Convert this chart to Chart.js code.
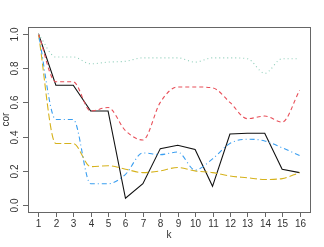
<!DOCTYPE html>
<html>
<head>
<meta charset="utf-8">
<script src="https://cdn.jsdelivr.net/npm/chart.js@4/dist/chart.umd.min.js"></script>
<style>
  html, body { margin: 0; padding: 0; background: #fff; }
  #wrap { width: 324px; height: 247px; }
</style>
</head>
<body>
<div id="wrap"><canvas id="chart" width="324" height="247"></canvas></div>
<script>
// data
const ks = [1, 2, 3, 4, 5, 6, 7, 8, 9, 10, 11, 12, 13, 14, 15, 16];
const yTicks = [0, 0.2, 0.4, 0.6, 0.8, 1.0];
const blackVals = [1.0, 0.70, 0.70, 0.55, 0.55, 0.04, 0.125, 0.33, 0.35, 0.325, 0.11, 0.415, 0.42, 0.42, 0.21, 0.19];
const redVals = [1.0, 0.72, 0.72, 0.55, 0.57, 0.435, 0.38, 0.60, 0.69, 0.69, 0.685, 0.60, 0.505, 0.52, 0.485, 0.67];
const greenVals = [1.0, 0.865, 0.865, 0.825, 0.835, 0.84, 0.86, 0.86, 0.86, 0.835, 0.86, 0.86, 0.855, 0.77, 0.855, 0.855];
const blueVals = [1.0, 0.50, 0.50, 0.125, 0.125, 0.18, 0.305, 0.295, 0.31, 0.205, 0.27, 0.36, 0.385, 0.375, 0.335, 0.29];
const yellowVals = [1.0, 0.36, 0.36, 0.225, 0.23, 0.21, 0.19, 0.20, 0.22, 0.20, 0.19, 0.17, 0.16, 0.15, 0.155, 0.19];

const pts = vals => vals.map((v, i) => ({ x: ks[i], y: v }));

function line(vals, color, dash, smooth) {
    return {
        data: pts(vals),
        borderColor: color,
        borderWidth: 1.1,
        borderDash: dash,
        pointRadius: 0,
        fill: false,
        tension: smooth ? 0.4 : 0,
        cubicInterpolationMode: smooth ? 'monotone' : 'default'
    };
}

// R style box, ticks and labels
const rAxes = {
    id: 'rAxes',
    afterDraw(chart) {
        const ctx = chart.ctx;
        const a = chart.chartArea;
        const xs = chart.scales.x, ys = chart.scales.y;
        ctx.save();
        ctx.strokeStyle = '#666';
        ctx.lineWidth = 1;
        ctx.strokeRect(a.left + 0.5, a.top + 0.5, a.right - a.left, a.bottom - a.top);
        ctx.fillStyle = '#333';
        ctx.font = '10px "Liberation Sans", Arial, sans-serif';

        ctx.textAlign = 'center';
        ctx.textBaseline = 'top';
        ks.forEach(k => {
            const px = Math.round(xs.getPixelForValue(k)) + 0.5;
            ctx.beginPath();
            ctx.moveTo(px, a.bottom);
            ctx.lineTo(px, a.bottom + 5);
            ctx.stroke();
            ctx.fillText(String(k), px, a.bottom + 7);
        });

        yTicks.forEach(v => {
            const py = Math.round(ys.getPixelForValue(v)) + 0.5;
            ctx.beginPath();
            ctx.moveTo(a.left, py);
            ctx.lineTo(a.left - 5, py);
            ctx.stroke();
            ctx.save();
            ctx.translate(a.left - 8, py);
            ctx.rotate(-Math.PI / 2);
            ctx.textAlign = 'center';
            ctx.textBaseline = 'bottom';
            ctx.fillText(v.toFixed(1), 0, 0);
            ctx.restore();
        });

        ctx.textAlign = 'center';
        ctx.textBaseline = 'middle';
        ctx.fillText('k', (a.left + a.right) / 2, 235);
        ctx.save();
        ctx.translate(6, (a.top + a.bottom) / 2);
        ctx.rotate(-Math.PI / 2);
        ctx.fillText('cor', 0, 0);
        ctx.restore();
        ctx.restore();
    }
};

new Chart(document.getElementById('chart'), {
    type: 'line',
    data: {
        datasets: [
            line(greenVals, '#8ccdb8', [1, 3], true),
            line(redVals, '#e8505a', [4, 3], true),
            line(blueVals, '#3a9ef0', [1, 3, 5, 3], true),
            line(yellowVals, '#d6b21c', [7, 3], true),
            line(blackVals, '#111', [], false)
        ]
    },
    options: {
        responsive: false,
        animation: false,
        layout: { padding: { left: 28, top: 27, right: 14, bottom: 35 } },
        plugins: { legend: { display: false }, tooltip: { enabled: false } },
        scales: {
            x: { type: 'linear', min: 0.4, max: 16.6, display: false },
            y: { type: 'linear', min: -0.04, max: 1.04, display: false }
        }
    },
    plugins: [rAxes]
});
</script>
</body>
</html>
